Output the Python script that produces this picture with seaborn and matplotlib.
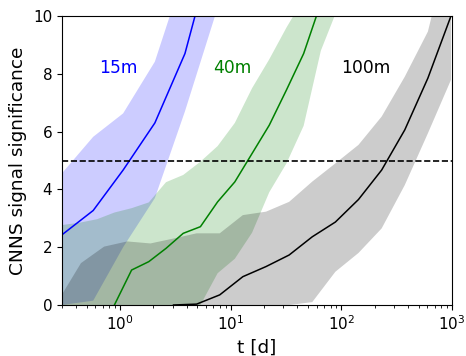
import numpy as np
import pandas as pd
import matplotlib
matplotlib.use("Agg")
import matplotlib.pyplot as plt
import seaborn as sns

# ---- data ----
t_15 = [0.30, 0.574, 1.07, 2.07, 3.87, 7.37]
mid_15 = [2.43, 3.27, 4.67, 6.30, 8.70, 12.7]
lo_15 = [0.0, 0.15, 2.0, 3.7, 6.7, 10.1]
hi_15 = [4.56, 5.82, 6.63, 8.42, 11.6, 15.0]

t_40 = [0.305, 0.436, 0.624, 0.892, 1.276, 1.824, 2.61, 3.733, 5.339, 7.636,
        10.92, 15.62, 22.34, 31.96, 45.70, 65.37, 93.5]
mid_40 = [np.nan, np.nan, np.nan, 0.0, 1.21, 1.50, 1.96, 2.48, 2.71, 3.57,
          4.26, 5.24, 6.22, 7.44, 8.70, 10.45, 12.5]
lo_40 = [0.0, 0.0, 0.0, 0.0, 0.0, 0.0, 0.0, 0.0, 0.0, 1.1,
         1.6, 2.5, 3.9, 4.9, 6.2, 8.8, 10.3]
hi_40 = [2.77, 2.85, 2.97, 3.20, 3.35, 3.55, 4.25, 4.50, 4.96, 5.50,
         6.30, 7.50, 8.50, 9.60, 10.6, 11.5, 12.5]

t_100 = [0.2753, 0.4452, 0.7201, 1.164, 1.887, 3.05, 4.932, 7.975, 12.90,
         20.90, 33.80, 54.65, 88.38, 142.9, 231.5, 374.5, 605.5, 979.0]
mid_100 = [np.nan, np.nan, np.nan, np.nan, np.nan, 0.0, 0.03, 0.35, 0.98,
           1.33, 1.73, 2.36, 2.87, 3.65, 4.67, 6.06, 7.85, 10.0]
lo_100 = [0.0, 0.0, 0.0, 0.0, 0.0, 0.0, 0.0, 0.0, 0.0,
          0.0, 0.0, 0.1, 1.15, 1.8, 2.65, 4.15, 5.94, 7.79]
hi_100 = [0.13, 1.45, 2.02, 2.20, 2.13, 2.30, 2.48, 2.48, 3.11,
          3.23, 3.57, 4.27, 4.90, 5.54, 6.52, 7.90, 9.46, 12.7]

labels = ["15m", "40m", "100m"]
colors = ["blue", "green", "black"]
label_pos = [(0.96, 8.2), (10.4, 8.2), (167.0, 8.2)]
threshold = 5.0

series = [(t_15, mid_15, lo_15, hi_15),
          (t_40, mid_40, lo_40, hi_40),
          (t_100, mid_100, lo_100, hi_100)]

fig = plt.figure(figsize=(4.66, 3.56), dpi=100)
ax = fig.add_axes([62 / 466, 1 - 305 / 356, 390 / 466, 289 / 356])
ax.set_xscale("log")

for (t, mid, lo, hi), c, lab, (lx, ly) in zip(series, colors, labels, label_pos):
    ax.fill_between(t, lo, hi, color=c, alpha=0.2, linewidth=0)
    df = pd.DataFrame({"t": t, "s": mid}).dropna()
    sns.lineplot(data=df, x="t", y="s", color=c, linewidth=1.1, ax=ax)
    ax.text(lx, ly, lab, color=c, fontsize=12.3, ha="center", va="center")

ax.axhline(threshold, color="black", linestyle="--", linewidth=1.2)

ax.set_xlim(0.3, 1000)
ax.set_ylim(0, 10)
ax.set_yticks([0, 2, 4, 6, 8, 10])
ax.tick_params(labelsize=11)
ax.set_xlabel("t [d]", fontsize=13.3)
ax.set_ylabel("CNNS signal significance", fontsize=13.3)

fig.savefig("out.png", dpi=100)
